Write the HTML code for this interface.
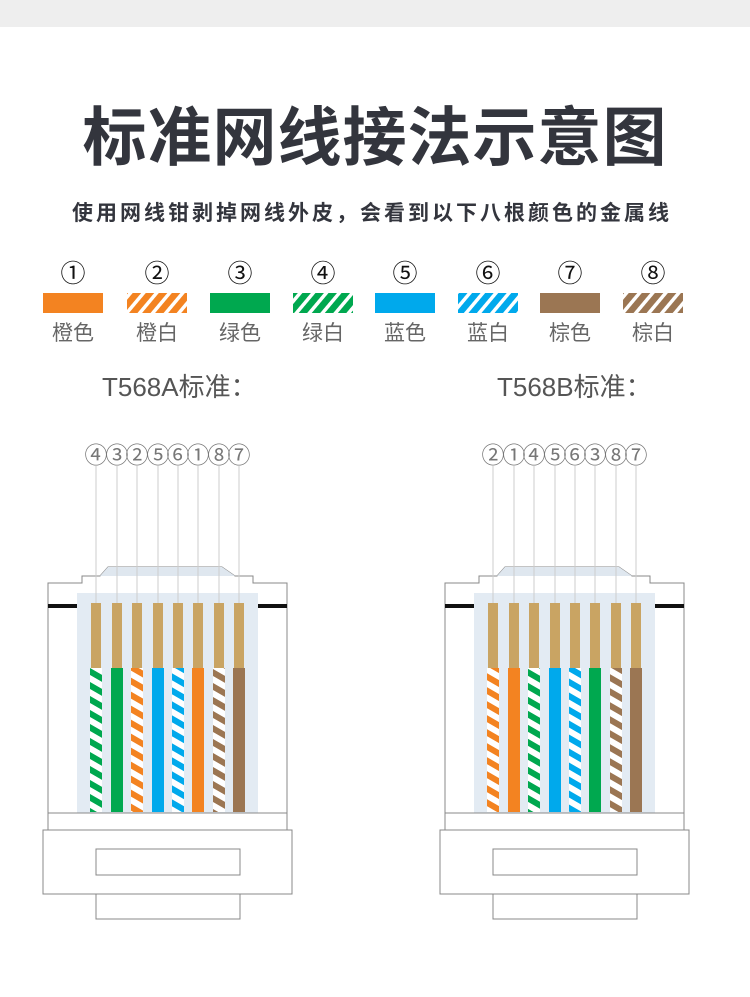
<!DOCTYPE html>
<html><head><meta charset="utf-8"><style>
html,body{margin:0;padding:0;background:#fff;}
svg{display:block;}
</style></head><body>
<svg width="750" height="997" viewBox="0 0 750 997" xmlns="http://www.w3.org/2000/svg" font-family="Liberation Sans, Noto Sans CJK SC, sans-serif">
<defs>
<pattern id="pO" patternUnits="userSpaceOnUse" width="12" height="14" patternTransform="skewY(30)"><rect width="12" height="14" fill="#f38321"/><rect y="7" width="12" height="7" fill="#fff"/></pattern>
<pattern id="pG" patternUnits="userSpaceOnUse" width="12" height="14" patternTransform="skewY(30)"><rect width="12" height="14" fill="#00a84f"/><rect y="7" width="12" height="7" fill="#fff"/></pattern>
<pattern id="pB" patternUnits="userSpaceOnUse" width="12" height="14" patternTransform="skewY(30)"><rect width="12" height="14" fill="#00a9ec"/><rect y="7" width="12" height="7" fill="#fff"/></pattern>
<pattern id="pN" patternUnits="userSpaceOnUse" width="12" height="14" patternTransform="skewY(30)"><rect width="12" height="14" fill="#9b7653"/><rect y="7" width="12" height="7" fill="#fff"/></pattern>
<pattern id="sO" patternUnits="userSpaceOnUse" width="10" height="10" patternTransform="rotate(40)"><rect width="10" height="10" fill="#fff"/><rect width="6.5" height="10" fill="#f38321"/></pattern>
<pattern id="sG" patternUnits="userSpaceOnUse" width="10" height="10" patternTransform="rotate(40)"><rect width="10" height="10" fill="#fff"/><rect width="6.5" height="10" fill="#00a84f"/></pattern>
<pattern id="sB" patternUnits="userSpaceOnUse" width="10" height="10" patternTransform="rotate(40)"><rect width="10" height="10" fill="#fff"/><rect width="6.5" height="10" fill="#00a9ec"/></pattern>
<pattern id="sN" patternUnits="userSpaceOnUse" width="10" height="10" patternTransform="rotate(40)"><rect width="10" height="10" fill="#fff"/><rect width="6.5" height="10" fill="#9b7653"/></pattern>
<g id="body" fill="none" stroke="#888" stroke-width="1">
  <path d="M48,830 L48,583 L82,583 L82,576 L100,576 L108,567 L222,567 L235,576 L253,576 L253,583 L287,583 L287,830" fill="#fff"/>
  <path d="M108,567 L222,567 L235,576 L100,576 Z" fill="#dfe7ef" stroke="none"/>
  <rect x="77" y="593" width="181" height="220" fill="#e3ebf3" stroke="none"/>
  <rect x="48" y="604" width="29" height="4" fill="#111" stroke="none"/>
  <rect x="258" y="604" width="29" height="4" fill="#111" stroke="none"/>
  <line x1="48" y1="813" x2="287" y2="813"/>
  <rect x="43" y="830" width="249" height="64" fill="#fff"/>
  <rect x="96" y="849" width="144" height="26"/>
  <rect x="96" y="894" width="144" height="25" fill="#fff"/>
</g>
</defs>
<rect x="0" y="0" width="750" height="27" fill="#eeeeee"/>
<text x="375" y="160" text-anchor="middle" font-size="64" font-weight="bold" fill="#33353d" letter-spacing="1">标准网线接法示意图</text>
<text x="372" y="220" text-anchor="middle" font-size="21" font-weight="bold" fill="#33353d" letter-spacing="3">使用网线钳剥掉网线外皮，会看到以下八根颜色的金属线</text>
<g font-size="25" fill="#111" text-anchor="middle">
<text x="73" y="282">①</text><text x="157" y="282">②</text><text x="240" y="282">③</text><text x="323" y="282">④</text><text x="405" y="282">⑤</text><text x="488" y="282">⑥</text><text x="570" y="282">⑦</text><text x="653" y="282">⑧</text>
</g>
<rect x="43" y="293" width="60" height="20" fill="#f38321"/>
<rect x="127" y="293" width="60" height="20" fill="url(#sO)"/>
<rect x="210" y="293" width="60" height="20" fill="#00a84f"/>
<rect x="293" y="293" width="60" height="20" fill="url(#sG)"/>
<rect x="375" y="293" width="60" height="20" fill="#00a9ec"/>
<rect x="458" y="293" width="60" height="20" fill="url(#sB)"/>
<rect x="540" y="293" width="60" height="20" fill="#9b7653"/>
<rect x="623" y="293" width="60" height="20" fill="url(#sN)"/>
<g font-size="21" fill="#666" text-anchor="middle">
<text x="73" y="340">橙色</text><text x="157" y="340">橙白</text><text x="240" y="340">绿色</text><text x="323" y="340">绿白</text><text x="405" y="340">蓝色</text><text x="488" y="340">蓝白</text><text x="570" y="340">棕色</text><text x="653" y="340">棕白</text>
</g>
<text x="102" y="396" font-size="26" fill="#555">T568A标准：</text>
<text x="497" y="396" font-size="26" fill="#555">T568B标准：</text>

<!-- Left connector -->
<use href="#body"/>
<g stroke="#ccc" stroke-width="1">
<line x1="96" y1="466" x2="96" y2="603"/><line x1="117" y1="466" x2="117" y2="603"/><line x1="137" y1="466" x2="137" y2="603"/><line x1="158" y1="466" x2="158" y2="603"/><line x1="178" y1="466" x2="178" y2="603"/><line x1="198" y1="466" x2="198" y2="603"/><line x1="219" y1="466" x2="219" y2="603"/><line x1="239" y1="466" x2="239" y2="603"/>
</g>
<g font-size="23" fill="#777" text-anchor="middle">
<text x="96" y="463">④</text><text x="117" y="463">③</text><text x="137" y="463">②</text><text x="158" y="463">⑤</text><text x="178" y="463">⑥</text><text x="198" y="463">①</text><text x="219" y="463">⑧</text><text x="239" y="463">⑦</text>
</g>
<g fill="#c9a463">
<rect x="91" y="603" width="10" height="65"/><rect x="112" y="603" width="10" height="65"/><rect x="132" y="603" width="10" height="65"/><rect x="153" y="603" width="10" height="65"/><rect x="173" y="603" width="10" height="65"/><rect x="193" y="603" width="10" height="65"/><rect x="214" y="603" width="10" height="65"/><rect x="234" y="603" width="10" height="65"/>
</g>
<rect x="90" y="668" width="12" height="144" fill="url(#pG)"/>
<rect x="111" y="668" width="12" height="144" fill="#00a84f"/>
<rect x="131" y="668" width="12" height="144" fill="url(#pO)"/>
<rect x="152" y="668" width="12" height="144" fill="#00a9ec"/>
<rect x="172" y="668" width="12" height="144" fill="url(#pB)"/>
<rect x="192" y="668" width="12" height="144" fill="#f38321"/>
<rect x="213" y="668" width="12" height="144" fill="url(#pN)"/>
<rect x="233" y="668" width="12" height="144" fill="#9b7653"/>

<!-- Right connector -->
<use href="#body" transform="translate(397,0)"/>
<g stroke="#ccc" stroke-width="1">
<line x1="493" y1="466" x2="493" y2="603"/><line x1="514" y1="466" x2="514" y2="603"/><line x1="534" y1="466" x2="534" y2="603"/><line x1="555" y1="466" x2="555" y2="603"/><line x1="575" y1="466" x2="575" y2="603"/><line x1="595" y1="466" x2="595" y2="603"/><line x1="616" y1="466" x2="616" y2="603"/><line x1="636" y1="466" x2="636" y2="603"/>
</g>
<g font-size="23" fill="#777" text-anchor="middle">
<text x="493" y="463">②</text><text x="514" y="463">①</text><text x="534" y="463">④</text><text x="555" y="463">⑤</text><text x="575" y="463">⑥</text><text x="595" y="463">③</text><text x="616" y="463">⑧</text><text x="636" y="463">⑦</text>
</g>
<g fill="#c9a463">
<rect x="488" y="603" width="10" height="65"/><rect x="509" y="603" width="10" height="65"/><rect x="529" y="603" width="10" height="65"/><rect x="550" y="603" width="10" height="65"/><rect x="570" y="603" width="10" height="65"/><rect x="590" y="603" width="10" height="65"/><rect x="611" y="603" width="10" height="65"/><rect x="631" y="603" width="10" height="65"/>
</g>
<rect x="487" y="668" width="12" height="144" fill="url(#pO)"/>
<rect x="508" y="668" width="12" height="144" fill="#f38321"/>
<rect x="528" y="668" width="12" height="144" fill="url(#pG)"/>
<rect x="549" y="668" width="12" height="144" fill="#00a9ec"/>
<rect x="569" y="668" width="12" height="144" fill="url(#pB)"/>
<rect x="589" y="668" width="12" height="144" fill="#00a84f"/>
<rect x="610" y="668" width="12" height="144" fill="url(#pN)"/>
<rect x="630" y="668" width="12" height="144" fill="#9b7653"/>
</svg>
</body></html>
